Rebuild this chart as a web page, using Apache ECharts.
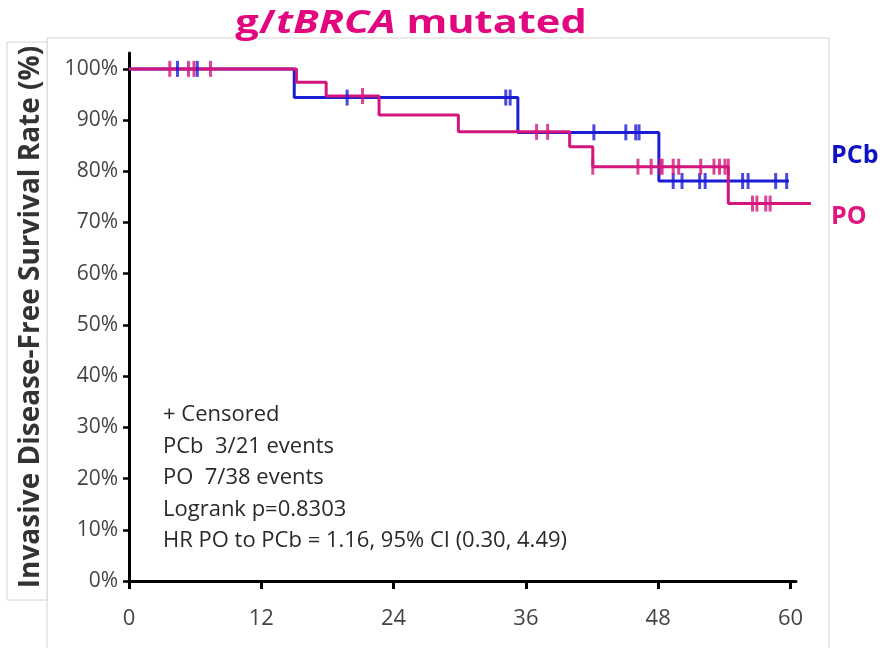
<!DOCTYPE html>
<html>
<head>
<meta charset="utf-8">
<title>g/tBRCA mutated</title>
<script src="https://cdn.jsdelivr.net/npm/echarts@6/dist/echarts.min.js"></script>
<style>
  html, body { margin: 0; padding: 0; background: #fff; }
  #chart { width: 883px; height: 648px; }
</style>
</head>
<body>
<div id="chart"></div>
<script>
// axis ticks
const xTicks = [0, 12, 24, 36, 48, 60]
const yTicks = [0, 10, 20, 30, 40, 50, 60, 70, 80, 90, 100]

// Kaplan-Meier steps (months, % event free)
const pcbTime = [0, 15.0, 35.3, 48.1, 59.9]
const pcbRate = [100, 94.4, 87.6, 78.1, 78.1]
const poTime = [0, 15.2, 17.9, 22.7, 29.9, 40.0, 42.1, 54.4, 61.9]
const poRate = [100, 97.4, 94.7, 91.0, 87.7, 84.8, 80.9, 73.7, 73.7]

// censored patients
const pcbCensorTime = [4.4, 6.2, 19.8, 34.2, 34.6, 42.2, 45.1, 46.0, 46.3, 49.4, 50.2, 51.8, 52.3, 55.7, 56.2, 58.7, 59.7]
const pcbCensorRate = [100, 100, 94.4, 94.4, 94.4, 87.6, 87.6, 87.6, 87.6, 78.1, 78.1, 78.1, 78.1, 78.1, 78.1, 78.1, 78.1]
const poCensorTime = [3.7, 5.4, 5.9, 7.4, 21.2, 37.0, 38.0, 42.1, 46.2, 47.4, 48.2, 48.4, 49.4, 49.9, 51.9, 53.1, 53.6, 54.1, 54.4, 56.6, 57.0, 57.8, 58.2]
const poCensorRate = [100, 100, 100, 100, 94.7, 87.7, 87.7, 80.9, 80.9, 80.9, 80.9, 80.9, 80.9, 80.9, 80.9, 80.9, 80.9, 80.9, 80.9, 73.7, 73.7, 73.7, 73.7]

const notes = [
  '+ Censored',
  'PCb  3/21 events',
  'PO  7/38 events',
  'Logrank p=0.8303',
  'HR PO to PCb = 1.16, 95% CI (0.30, 4.49)'
]

const blue = '#1c1cd6'
const pink = '#d3157c'
const zip = (a, b) => a.map((v, i) => [v, b[i]])

const myChart = echarts.init(document.getElementById('chart'))
// grid 0 holds the curves (x runs a bit past the drawn axis), grid 1 draws the axes
const option = {
  animation: false,
  grid: [
    { left: 129, right: 71, top: 53, bottom: 67 },
    { left: 129, right: 87, top: 53, bottom: 67 }
  ],
  xAxis: [
    { type: 'value', gridIndex: 0, min: 0, max: 62, show: false },
    {
      type: 'value',
      gridIndex: 1,
      min: 0,
      max: 60.5,
      interval: 12,
      splitLine: { show: false },
      axisLine: { lineStyle: { color: '#000', width: 3 } },
      axisTick: { customValues: xTicks, length: 8, lineStyle: { color: '#000', width: 3 } },
      axisLabel: { customValues: xTicks, margin: 27, fontFamily: 'Open Sans', fontSize: 22, color: '#444' }
    }
  ],
  yAxis: [
    { type: 'value', gridIndex: 0, min: 0, max: 103.1, show: false },
    {
      type: 'value',
      gridIndex: 1,
      min: 0,
      max: 103.1,
      interval: 10,
      splitLine: { show: false },
      axisLine: { show: true, lineStyle: { color: '#000', width: 3 } },
      axisTick: { show: true, customValues: yTicks, length: 6, lineStyle: { color: '#000', width: 2.5 } },
      axisLabel: { customValues: yTicks, formatter: '{value}%', margin: 11, fontFamily: 'Open Sans', fontSize: 21, color: '#444' },
      name: 'Invasive Disease-Free Survival Rate (%)',
      nameLocation: 'middle',
      nameRotate: 90,
      nameGap: 84,
      nameTextStyle: { fontFamily: 'Open Sans', fontWeight: 'bold', fontSize: 28, color: '#333' }
    }
  ],
  series: [
    {
      name: 'PCb',
      type: 'line',
      step: 'end',
      showSymbol: false,
      data: zip(pcbTime, pcbRate),
      lineStyle: { color: blue, width: 3 },
      z: 2
    },
    {
      name: 'PO',
      type: 'line',
      step: 'end',
      showSymbol: false,
      data: zip(poTime, poRate),
      lineStyle: { color: pink, width: 3 },
      z: 3
    },
    {
      type: 'scatter',
      symbol: 'rect',
      symbolSize: [3, 16],
      itemStyle: { color: blue },
      data: zip(pcbCensorTime, pcbCensorRate),
      z: 4
    },
    {
      type: 'scatter',
      symbol: 'rect',
      symbolSize: [3, 16],
      itemStyle: { color: pink },
      data: zip(poCensorTime, poCensorRate),
      z: 5
    }
  ],
  graphic: [
    {
      type: 'rect',
      z: -10,
      shape: { x: 47, y: 38, width: 782, height: 630 },
      style: { fill: 'none', stroke: '#d4d4d4', lineWidth: 1 }
    },
    {
      type: 'rect',
      z: -9,
      shape: { x: 7, y: 42, width: 40, height: 558 },
      style: { fill: '#fff', stroke: '#d4d4d4', lineWidth: 1 }
    },
    {
      type: 'text',
      x: 411,
      y: 24,
      scaleX: 1.26,
      style: {
        text: '{a|g/}{b|tBRCA}{a| mutated}',
        align: 'center',
        verticalAlign: 'middle',
        rich: {
          a: { fontFamily: 'Open Sans', fontWeight: 'bold', fontSize: 33, fill: '#e2077f' },
          b: { fontFamily: 'Open Sans', fontWeight: 'bold', fontStyle: 'italic', fontSize: 33, fill: '#e2077f' }
        }
      }
    },
    {
      type: 'text',
      x: 163,
      y: 399,
      style: {
        text: notes.join('\n'),
        fontFamily: 'Open Sans',
        fontSize: 22,
        lineHeight: 31.5,
        fill: '#2a2a2a',
        align: 'left',
        verticalAlign: 'top'
      }
    },
    {
      type: 'text',
      x: 831,
      y: 156,
      style: { text: 'PCb', fontFamily: 'Open Sans', fontWeight: 'bold', fontSize: 25, fill: '#1111c4', verticalAlign: 'middle' }
    },
    {
      type: 'text',
      x: 831,
      y: 217,
      style: { text: 'PO', fontFamily: 'Open Sans', fontWeight: 'bold', fontSize: 25, fill: '#e0157f', verticalAlign: 'middle' }
    }
  ]
}
myChart.setOption(option)
window.addEventListener('resize', () => myChart.resize())
</script>
</body>
</html>
